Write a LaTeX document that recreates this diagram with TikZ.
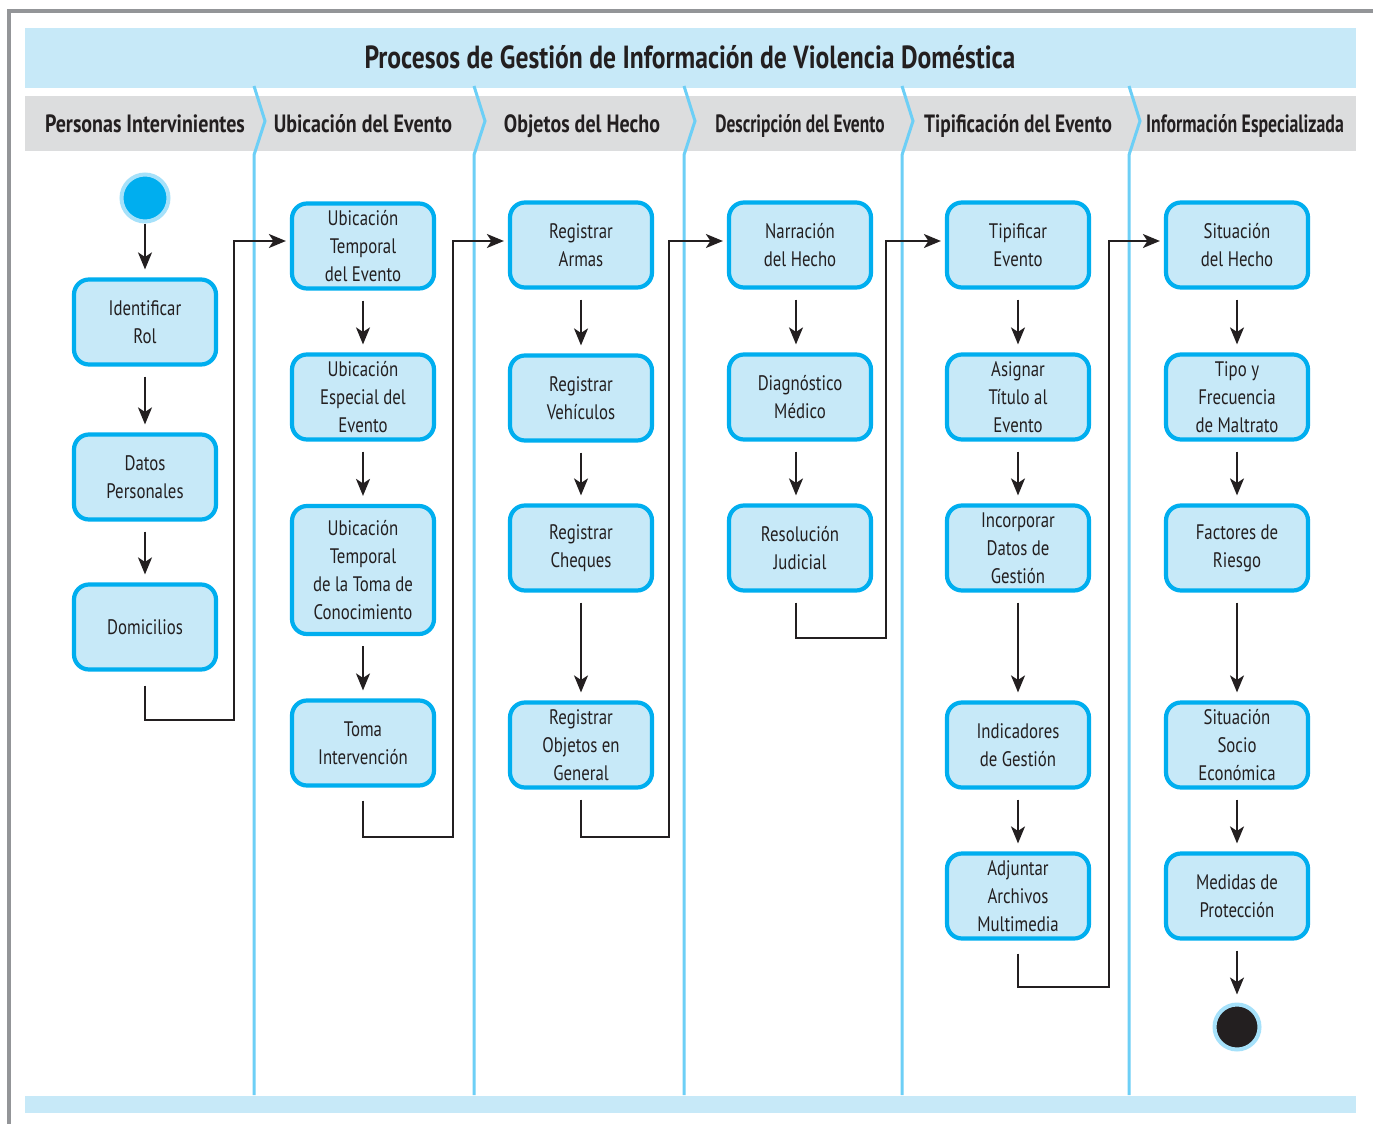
\documentclass[tikz,border=0pt]{standalone}
\usepackage{fontspec}
\usepackage{graphicx}
\setmainfont{PT Sans}[FakeStretch=0.8]
\usetikzlibrary{arrows.meta}
\definecolor{nodeblue}{HTML}{00AEEF}
\definecolor{lightblue}{HTML}{C7E9F8}
\definecolor{ringblue}{HTML}{A6E1FA}
\definecolor{laneblue}{HTML}{6DCFF6}
\definecolor{headgray}{HTML}{DCDDDE}
\definecolor{bordergray}{HTML}{939598}
\definecolor{txt}{HTML}{231F20}
\begin{document}
\begin{tikzpicture}[x=1pt,y=-1pt,
  box/.style={draw=nodeblue, fill=lightblue, line width=4.2pt, rounded corners=15pt,
    minimum width=142pt, minimum height=85pt, align=center, text=txt,
    font=\fontsize{21}{28}\selectfont, inner sep=0pt},
  arr/.style={draw=txt, line width=1.8pt, -{Stealth[length=17pt,width=14pt,inset=4.5pt]}},
  varr/.style={arr, shorten <=10pt, shorten >=8pt},
  lanediv/.style={draw=laneblue, line width=3pt},
  head/.style={text=txt, font=\bfseries\fontsize{25}{30}\selectfont, inner sep=0pt, anchor=base},
  titlestyle/.style={text=txt, font=\bfseries\fontsize{32}{36}\selectfont, inner sep=0pt, anchor=base},
  ]
\useasboundingbox (0,0) rectangle (1373,1124);
\fill[white] (0,0) rectangle (1373,1124);
\draw[bordergray, line width=4pt] (9,1124) -- (9,11.5) -- (1373,11.5);
\fill[lightblue] (25,28) rectangle (1356,88);
\fill[headgray] (25,96) rectangle (1356,151);
\fill[lightblue] (25,1096) rectangle (1356,1113);
\foreach \x in {254,474,684,902,1129}
  \draw[lanediv] (\x,86) -- (\x+11,121) -- (\x,155) -- (\x,1095);

\node[titlestyle] (title) at (690,68) {Procesos de Gestión de Información de Violencia Doméstica};
\node[head] (h1) at (145,132) {Personas Intervinientes};
\node[head] (h2) at (363,132) {Ubicación del Evento};
\node[head] (h3) at (582,132) {Objetos del Hecho};
\node[head] (h4) at (800,132) {\scalebox{0.87}[1]{Descripción del Evento}};
\node[head] (h5) at (1018,132) {\scalebox{0.97}[1]{Tipificación del Evento}};
\node[head] (h6) at (1245,132) {\scalebox{0.89}[1]{Información Especializada}};

% lane 1
\node[circle, fill=nodeblue, draw=ringblue, line width=4pt, minimum size=47pt, inner sep=0pt] (start) at (145,198) {};
\node[box] (rol) at (145,322) {Identificar\\Rol};
\node[box] (dat) at (145,477) {Datos\\Personales};
\node[box] (dom) at (145,627) {Domicilios};
% lane 2
\node[box] (ut) at (363,246) {Ubicación\\Temporal\\del Evento};
\node[box] (ue) at (363,397) {Ubicación\\Especial del\\Evento};
\node[box, minimum height=128pt] (utc) at (363,570) {Ubicación\\Temporal\\de la Toma de\\Conocimiento};
\node[box] (toma) at (363,743) {Toma\\Intervención};
% lane 3
\node[box] (arm) at (581,245) {Registrar\\Armas};
\node[box] (veh) at (581,398) {Registrar\\Vehículos};
\node[box] (che) at (581,548) {Registrar\\Cheques};
\node[box] (obj) at (581,745) {Registrar\\Objetos en\\General};
% lane 4
\node[box] (nar) at (800,245) {Narración\\del Hecho};
\node[box] (diag) at (800,397) {Diagnóstico\\Médico};
\node[box] (res) at (800,548) {Resolución\\Judicial};
% lane 5
\node[box] (tip) at (1018,245) {Tipificar\\Evento};
\node[box] (asi) at (1018,397) {Asignar\\Título al\\Evento};
\node[box] (inc) at (1018,548) {Incorporar\\Datos de\\Gestión};
\node[box] (ind) at (1018,745) {Indicadores\\de Gestión};
\node[box] (adj) at (1018,896) {Adjuntar\\Archivos\\Multimedia};
% lane 6
\node[box] (sit) at (1237,245) {Situación\\del Hecho};
\node[box] (tipo) at (1237,397) {Tipo y\\Frecuencia\\de Maltrato};
\node[box] (fac) at (1237,548) {Factores de\\Riesgo};
\node[box] (soc) at (1237,745) {Situación\\Socio\\Económica};
\node[box] (med) at (1237,896) {Medidas de\\Protección};
\node[circle, fill=txt, draw=ringblue, line width=4pt, minimum size=45pt, inner sep=0pt] (fin) at (1237,1027) {};

% vertical arrows
\draw[arr, shorten >=8pt] (start) -- (rol);
\draw[varr] (rol) -- (dat);
\draw[varr] (dat) -- (dom);
\draw[varr] (ut) -- (ue);
\draw[varr] (ue) -- (utc);
\draw[varr] (utc) -- (toma);
\draw[varr] (arm) -- (veh);
\draw[varr] (veh) -- (che);
\draw[varr] (che) -- (obj);
\draw[varr] ([xshift=-4pt]nar.south) -- ([xshift=-4pt]diag.north);
\draw[varr] ([xshift=-4pt]diag.south) -- ([xshift=-4pt]res.north);
\draw[varr] (tip) -- (asi);
\draw[varr] (asi) -- (inc);
\draw[varr] (inc) -- (ind);
\draw[varr] (ind) -- (adj);
\draw[varr] (sit) -- (tipo);
\draw[varr] (tipo) -- (fac);
\draw[varr] (fac) -- (soc);
\draw[varr] (soc) -- (med);
\draw[varr] (med) -- (fin);

% cross-lane connectors
\coordinate (k1) at (234,720);
\coordinate (k2) at (453,837);
\coordinate (k3) at (669,837);
\coordinate (k4) at (886,638);
\coordinate (k5) at (1109,987);
\draw[arr, shorten <=14pt, shorten >=4pt] (dom.south) |- (k1) |- ([yshift=5pt]ut.west);
\draw[arr, shorten <=13pt, shorten >=4pt] (toma.south) |- (k2) |- ([yshift=4pt]arm.west);
\draw[arr, shorten <=10pt, shorten >=4pt] (obj.south) |- (k3) |- ([yshift=4pt]nar.west);
\draw[arr, shorten <=10pt, shorten >=4pt] ([xshift=-4pt]res.south) |- (k4) |- ([yshift=4pt]tip.west);
\draw[arr, shorten <=13pt, shorten >=4pt] (adj.south) |- (k5) |- ([yshift=4pt]sit.west);
\end{tikzpicture}
\end{document}
